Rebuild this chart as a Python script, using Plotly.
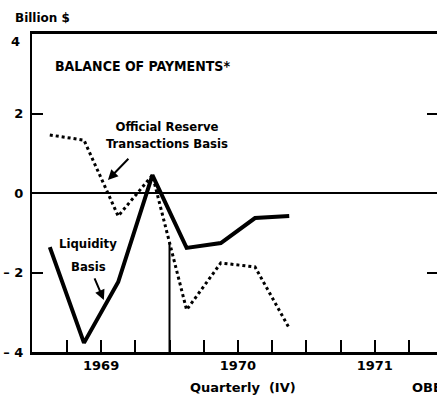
import plotly.graph_objects as go

# quarter index: 0 = first tick of 1969 axis, points sit mid-quarter
quarters = [-0.5, 0.5, 1.5, 2.5, 3.5, 4.5, 5.5, 6.5]
liquidity = [-1.36, -3.77, -2.24, 0.45, -1.38, -1.26, -0.63, -0.58]
official = [1.46, 1.33, -0.58, 0.45, -2.94, -1.76, -1.86, -3.4]

break_x = [3, 3]
break_y = [-4, -1.26]

tick_pos = list(range(0, 11))
year_pos = {1: "1969", 5: "1970", 9: "1971"}
y_ticks = [-4, -2, 0, 2, 4]
y_text = ["– 4", "– 2", "0", "2", ""]   # "4" sits a bit below the top, see annotation

FONT = "Liberation Sans Narrow, DejaVu Sans Condensed, Arial Narrow, sans-serif"
TICKFONT = "DejaVu Sans, Verdana, sans-serif"

fig = go.Figure()
fig.add_trace(go.Scatter(x=break_x, y=break_y, mode="lines",
                         line=dict(color="black", width=2), showlegend=False))
# official series drawn on the overlaid right axis so its ticks show
fig.add_trace(go.Scatter(x=quarters, y=official, mode="lines", yaxis="y2",
                         line=dict(color="black", width=3, dash="dot"), showlegend=False))
fig.add_trace(go.Scatter(x=quarters, y=liquidity, mode="lines",
                         line=dict(color="black", width=4), showlegend=False))

fig.update_layout(
    width=437, height=406,
    margin=dict(l=32, r=0, t=34, b=54),
    plot_bgcolor="white", paper_bgcolor="white",
    xaxis=dict(range=[-1.02, 10.82], showgrid=False, zeroline=False, automargin=False,
               showline=True, linecolor="black", linewidth=2.5, mirror=True,
               ticks="inside", ticklen=12, tickwidth=2, tickcolor="black",
               tickvals=tick_pos,
               ticktext=[year_pos.get(t, "") for t in tick_pos],
               tickfont=dict(family=TICKFONT, size=13, color="black", weight="bold")),
    yaxis=dict(range=[-4, 4], showgrid=False, zeroline=True, zerolinecolor="black",
               zerolinewidth=1.5, showline=True, linecolor="black", linewidth=2,
               automargin=False, ticklabelstandoff=4,
               ticks="inside", ticklen=11, tickwidth=2, tickcolor="black",
               tickvals=y_ticks, ticktext=y_text,
               tickfont=dict(family=TICKFONT, size=13, color="black", weight="bold")),
    yaxis2=dict(range=[-4, 4], overlaying="y", side="right", showgrid=False,
                zeroline=False, showline=False, automargin=False,
                ticks="inside", ticklen=10,
                tickwidth=2, tickcolor="black", tickvals=[-2, 2],
                showticklabels=False),
)

fig.add_annotation(x=-0.41, y=3.2, text="BALANCE OF PAYMENTS*", xanchor="left",
                   showarrow=False,
                   font=dict(family=FONT, size=14, color="black", weight="bold"))
ann = dict(showarrow=False, font=dict(family=FONT, size=13, color="black", weight="bold"))
fig.add_annotation(x=2.93, y=1.46, text="Official Reserve<br>Transactions Basis", **ann)
fig.add_annotation(x=0.62, y=-1.28, text="Liquidity", **ann)
fig.add_annotation(x=0.62, y=-1.86, text="Basis", **ann)
fig.add_annotation(x=1.2, y=0.33, ax=1.84, ay=0.9, axref="x", ayref="y",
                   text="", showarrow=True, arrowhead=2, arrowsize=1,
                   arrowwidth=2, arrowcolor="black")
fig.add_annotation(x=1.08, y=-2.69, ax=0.79, ay=-2.11, axref="x", ayref="y",
                   text="", showarrow=True, arrowhead=2, arrowsize=1,
                   arrowwidth=2, arrowcolor="black")

fig.add_annotation(xref="paper", x=-0.025, y=3.8, text="4", xanchor="right",
                   showarrow=False,
                   font=dict(family=TICKFONT, size=13, color="black", weight="bold"))
fig.add_annotation(xref="paper", yref="paper", x=-0.047, y=1.05, text="Billion $",
                   xanchor="left", yanchor="middle", showarrow=False,
                   font=dict(family=TICKFONT, size=12, color="black", weight="bold"))
fig.add_annotation(xref="paper", yref="paper", x=0.52, y=-0.113, text="Quarterly  (IV)",
                   yanchor="middle", showarrow=False,
                   font=dict(family=TICKFONT, size=13, color="black", weight="bold"))
fig.add_annotation(xref="paper", yref="paper", x=0.933, y=-0.113, text="OBE",
                   xanchor="left", yanchor="middle", showarrow=False,
                   font=dict(family=TICKFONT, size=13, color="black", weight="bold"))

# page body has a default margin; drop it so the figure sits at the window origin
fig.write_html("out.html", config={"displayModeBar": False},
               post_script="document.body.style.margin='0';document.body.style.overflow='hidden';")
